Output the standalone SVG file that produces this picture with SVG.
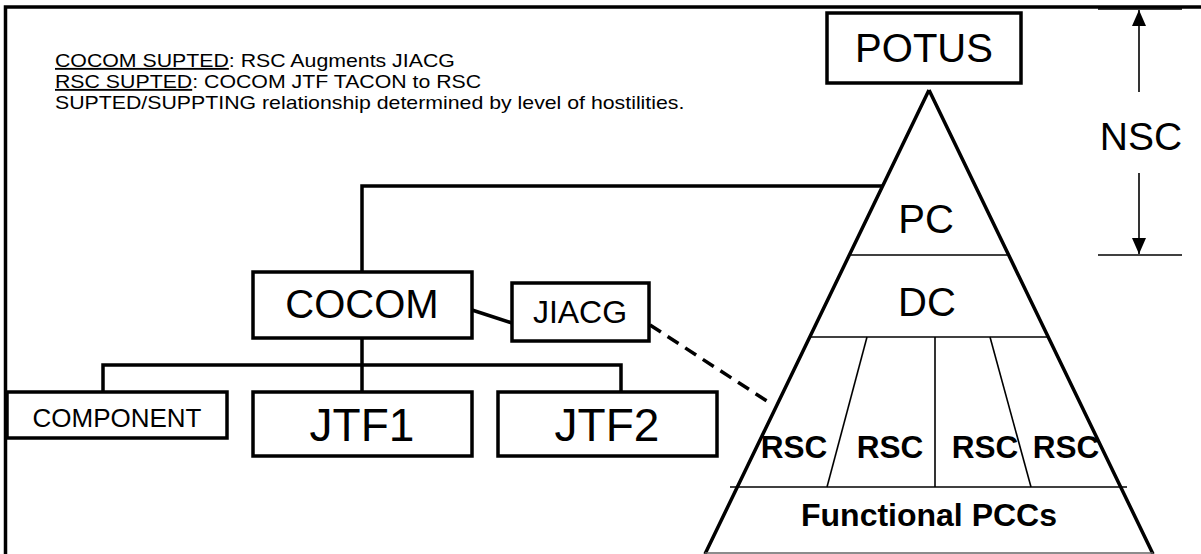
<svg xmlns="http://www.w3.org/2000/svg" width="1201" height="554" viewBox="0 0 1201 554">
  <style>
    .box { fill: #fff; stroke: #000; stroke-width: 3.5; }
    .thick { fill: none; stroke: #000; stroke-width: 3.5; }
    .thin { fill: none; stroke: #000; stroke-width: 1.6; }
    .t { font-family: "Liberation Sans", Arial, sans-serif; fill: #000; text-anchor: middle; }
    .b { font-weight: bold; }
    .note { font-family: "Liberation Sans", Arial, sans-serif; font-size: 18.6px; fill: #000; }
  </style>
  <defs>
    <marker id="head" viewBox="0 0 16 14" refX="16" refY="7" markerWidth="16" markerHeight="14" markerUnits="userSpaceOnUse" orient="auto">
      <path d="M0,0 L16,7 L0,14 Z" fill="#000"/>
    </marker>
  </defs>

  <!-- page frame -->
  <path class="thick" d="M5.5,554 V7 H1201"/>

  <!-- notes (set slightly wide) -->
  <g id="notes" transform="translate(55,0) scale(1.145,1)">
    <text class="note" x="0" y="67"><tspan text-decoration="underline">COCOM SUPTED</tspan>: RSC Augments JIACG</text>
    <text class="note" x="0" y="88"><tspan text-decoration="underline">RSC SUPTED</tspan>: COCOM JTF TACON to RSC</text>
    <text class="note" x="0" y="109">SUPTED/SUPPTING relationship determined by level of hostilities.</text>
  </g>

  <!-- NSC extent -->
  <g id="nsc">
    <line class="thin" x1="1098" y1="9" x2="1182" y2="9"/>
    <line class="thin" x1="1098" y1="255" x2="1182" y2="255"/>
    <line class="thin" x1="1139" y1="92" x2="1139" y2="10" marker-end="url(#head)"/>
    <line class="thin" x1="1139" y1="173" x2="1139" y2="254" marker-end="url(#head)"/>
    <text class="t" x="1141" y="150" font-size="39">NSC</text>
  </g>

  <!-- connectors -->
  <g id="connectors">
    <path class="thick" d="M883,186 H362 V272"/>
    <path class="thick" d="M362,338 V365 M103,392 V365 H621 V392 M362,365 V392"/>
    <line class="thick" x1="472" y1="310" x2="512" y2="323"/>
    <line class="thick" x1="650" y1="325" x2="773" y2="405" stroke-dasharray="13,8"/>
  </g>

  <!-- NSC pyramid -->
  <g id="pyramid">
    <path class="thick" d="M929,90 L705,554 M929,90 L1153,554"/>
    <line class="thin" x1="851" y1="255" x2="1007" y2="255"/>
    <line class="thin" x1="811" y1="337" x2="1047" y2="337"/>
    <line class="thin" x1="730" y1="487" x2="1127" y2="487"/>
    <line class="thin" x1="867" y1="337" x2="827" y2="487"/>
    <line class="thin" x1="935" y1="337" x2="935" y2="487"/>
    <line class="thin" x1="990" y1="337" x2="1031" y2="487"/>
    <line x1="705" y1="553" x2="1153" y2="553" stroke="#666" stroke-width="1.5"/>
    <text class="t" x="926" y="233" font-size="40">PC</text>
    <text class="t" x="927" y="316" font-size="40">DC</text>
    <text class="t b" x="794" y="458" font-size="31.5">RSC</text>
    <text class="t b" x="890" y="458" font-size="31.5">RSC</text>
    <text class="t b" x="985" y="458" font-size="31.5">RSC</text>
    <text class="t b" x="1066" y="458" font-size="31.5">RSC</text>
    <text class="t b" x="929" y="526" font-size="32">Functional PCCs</text>
  </g>

  <g id="potus">
    <rect class="box" x="827" y="13" width="194" height="70"/>
    <text class="t" x="924" y="62" font-size="40">POTUS</text>
  </g>

  <g id="cocom">
    <rect class="box" x="253" y="272" width="219" height="66"/>
    <text class="t" x="362" y="318" font-size="40">COCOM</text>
  </g>

  <g id="jiacg">
    <rect class="box" x="512" y="283" width="137" height="58"/>
    <text class="t" x="580" y="323" font-size="32">JIACG</text>
  </g>

  <g id="component">
    <rect class="box" x="7" y="392" width="220" height="46"/>
    <text class="t" x="117" y="427" font-size="26">COMPONENT</text>
  </g>

  <g id="jtf1">
    <rect class="box" x="253" y="392" width="219" height="64"/>
    <text class="t" x="362" y="441" font-size="46">JTF1</text>
  </g>

  <g id="jtf2">
    <rect class="box" x="498" y="392" width="219" height="64"/>
    <text class="t" x="607" y="441" font-size="46">JTF2</text>
  </g>
</svg>
